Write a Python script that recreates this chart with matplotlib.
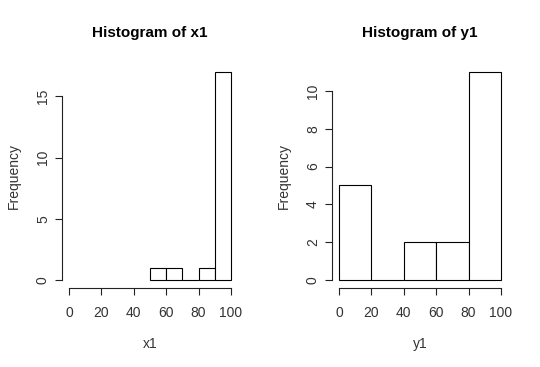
import numpy as np
import matplotlib.pyplot as plt

plt.rcParams['font.family'] = ['Liberation Sans', 'DejaVu Sans']

# histogram data (bin edges and counts)
x1_edges = [50, 60, 70, 80, 90, 100]
x1_counts = [1, 1, 0, 1, 17]
y1_edges = [0, 20, 40, 60, 80, 100]
y1_counts = [5, 0, 2, 2, 11]

x_ticks = [0, 20, 40, 60, 80, 100]
x1_yticks = [0, 5, 10, 15]
y1_yticks = [0, 2, 4, 6, 8, 10]

fig = plt.figure(figsize=(5.4, 3.67), dpi=100)
ax1 = fig.add_axes([0.1157, 0.2144, 0.324, 0.612])
ax2 = fig.add_axes([0.6157, 0.2144, 0.324, 0.612])


def r_hist(ax, edges, counts, yticks, name):
    edges = np.array(edges)
    ax.bar(edges[:-1], counts, width=np.diff(edges), align='edge',
           color='white', edgecolor='black', linewidth=0.8)
    ymax = max(counts)
    ax.set_xlim(-4, 104)
    ax.set_ylim(-0.04 * ymax, 1.04 * ymax)
    for s in ['top', 'right']:
        ax.spines[s].set_visible(False)
    ax.spines['left'].set_bounds(yticks[0], yticks[-1])
    ax.spines['bottom'].set_bounds(x_ticks[0], x_ticks[-1])
    for s in ['left', 'bottom']:
        ax.spines[s].set_linewidth(0.8)
        ax.spines[s].set_color('#222222')
    ax.set_xticks(x_ticks)
    ax.set_yticks(yticks)
    ax.set_yticklabels([str(t) for t in yticks], rotation=90, va='center')
    ax.tick_params(length=5, width=0.8, labelsize=10, color='#222222',
                   labelcolor='#333333')
    ax.tick_params(axis='x', pad=8)
    ax.tick_params(axis='y', pad=4)
    ax.set_title('Histogram of ' + name, fontsize=11, fontweight='bold', pad=19)
    ax.set_xlabel(name, fontsize=10, color='#333333', labelpad=12)
    ax.set_ylabel('Frequency', fontsize=10, color='#333333', labelpad=11)


r_hist(ax1, x1_edges, x1_counts, x1_yticks, 'x1')
r_hist(ax2, y1_edges, y1_counts, y1_yticks, 'y1')

fig.savefig('out.png', dpi=100)
